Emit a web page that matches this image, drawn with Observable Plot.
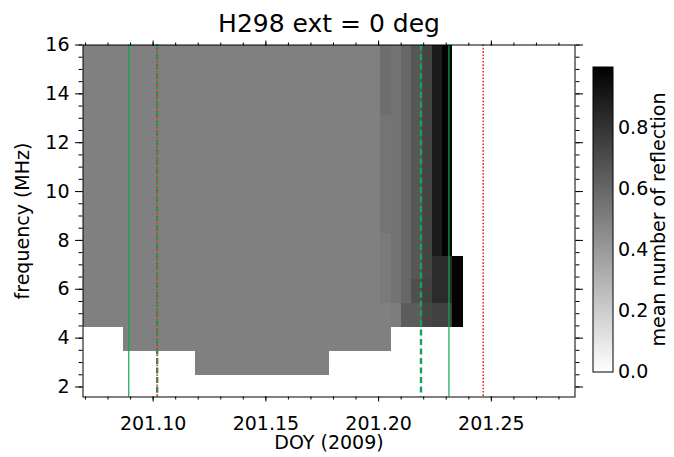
<!DOCTYPE html>
<html>
<head>
<meta charset="utf-8">
<script src="https://cdn.jsdelivr.net/npm/d3@7"></script>
<script src="https://cdn.jsdelivr.net/npm/@observablehq/plot@0.6"></script>
<style>
  html, body { margin: 0; padding: 0; background: #fff; }
  #chart { position: relative; width: 674px; height: 457px; overflow: hidden; background: #fff; }
  #chart svg { position: absolute; top: 0; }
</style>
</head>
<body>
<div id="chart"></div>
<script>
// ---- text ----
const titleText = "H298 ext = 0 deg";
const xLabel = "DOY (2009)";
const yLabel = "frequency (MHz)";
const colorLabel = "mean number of reflection";

// ---- bin edges (DOY and MHz) ----
const timeEdges = [201.0689, 201.0867, 201.1188, 201.1782, 201.2009, 201.2057, 201.2101,
                   201.2146, 201.2195, 201.2239, 201.2283, 201.2328, 201.2377];
const freqEdges = [2.45, 3.45, 4.45, 5.4, 6.4, 7.35, 8.3, 9.3, 10.25, 11.2, 12.15, 13.1, 14.1, 15.05, 16.0];

// ---- mean number of reflection, one array per time bin, rows from low to high frequency ----
const meanReflection = [
  [null, null, .5, .5, .5, .5, .5, .5, .5, .5, .5, .5, .5, .5],
  [null, .5, .5, .5, .5, .5, .5, .5, .5, .5, .5, .5, .5, .5],
  [.5, .5, .5, .5, .5, .5, .5, .5, .5, .5, .5, .5, .5, .5],
  [null, .5, .5, .5, .5, .5, .5, .5, .5, .5, .5, .5, .5, .5],
  [null, .5, .5, .52, .52, .52, .545, .545, .545, .545, .545, .57, .57, .57],
  [null, null, .515, .55, .55, .55, .55, .55, .55, .55, .55, .55, .55, .55],
  [null, null, .64, .595, .595, .595, .595, .595, .595, .595, .595, .595, .595, .595],
  [null, null, .64, .69, .66, .66, .66, .66, .66, .66, .66, .66, .66, .66],
  [null, null, .73, .75, .733, .733, .733, .733, .733, .733, .733, .733, .733, .733],
  [null, null, .745, .83, .83, .89, .89, .89, .89, .89, .89, .89, .89, .89],
  [null, null, .745, .83, .83, .99, .99, .99, .99, .99, .99, .99, .99, .99],
  [null, null, .99, .99, .99, null, null, null, null, null, null, null, null, null]
];

// ---- marker lines (DOY) ----
const greenSolidDOY = [201.0892, 201.2312];
const greenDashedDOY = [201.1018, 201.2188];
const redDottedDOY = [201.1018, 201.2464];

// ---- ticks ----
const xMajorTicks = [201.10, 201.15, 201.20, 201.25];
const xMinorTicks = [201.07, 201.08, 201.09, 201.10, 201.11, 201.12, 201.13, 201.14, 201.15, 201.16, 201.17,
                     201.18, 201.19, 201.20, 201.21, 201.22, 201.23, 201.24, 201.25, 201.26, 201.27, 201.28];
const yMajorTicks = [2, 4, 6, 8, 10, 12, 14, 16];
const yMinorTicks = [2, 2.5, 3, 3.5, 4, 4.5, 5, 5.5, 6, 6.5, 7, 7.5, 8, 8.5, 9, 9.5, 10, 10.5, 11, 11.5,
                     12, 12.5, 13, 13.5, 14, 14.5, 15, 15.5, 16];
const colorTicks = [0, 0.2, 0.4, 0.6, 0.8];

// ---- build cells ----
const cells = [];
meanReflection.forEach((col, i) => col.forEach((v, j) => {
  if (v != null) cells.push({t1: timeEdges[i], t2: timeEdges[i + 1], f1: freqEdges[j], f2: freqEdges[j + 1], v});
}));

const font = "'DejaVu Sans', sans-serif";
const green = "#12a55a";
const red = "#e0302a";
const colorScale = {type: "linear", domain: [0, 1], range: ["white", "black"]};

const main = Plot.plot({
  width: 674, height: 457,
  marginLeft: 82.5, marginRight: 99.5, marginTop: 44.5, marginBottom: 60.5,
  style: {fontFamily: font, fontSize: "19px", color: "black", background: "white", overflow: "visible"},
  x: {domain: [201.0689, 201.2871]},
  y: {domain: [1.59, 16]},
  color: colorScale,
  marks: [
    Plot.rect(cells, {x1: "t1", x2: "t2", y1: "f1", y2: "f2", fill: "v", shapeRendering: "crispEdges"}),
    Plot.ruleX(greenSolidDOY, {stroke: green, strokeWidth: 1.2}),
    Plot.ruleX(greenDashedDOY, {stroke: green, strokeWidth: 2.4, strokeDasharray: "6,3.5"}),
    Plot.ruleX(redDottedDOY, {stroke: red, strokeWidth: 1.6, strokeDasharray: "1.6,1.7"}),
    Plot.frame({stroke: "black"}),
    Plot.axisX({anchor: "bottom", ticks: xMajorTicks, tickSize: 5, tickPadding: 14, tickFormat: ".2f",
                label: xLabel, labelAnchor: "center", labelArrow: "none", labelOffset: 52}),
    Plot.axisX({anchor: "bottom", ticks: xMinorTicks, tickSize: 3, fill: "none"}),
    Plot.axisX({anchor: "top", ticks: xMajorTicks, tickSize: 5, fill: "none"}),
    Plot.axisX({anchor: "top", ticks: xMinorTicks, tickSize: 3, fill: "none"}),
    Plot.axisY({anchor: "left", ticks: yMajorTicks, tickSize: 7.5, tickPadding: 6, tickFormat: d => String(d),
                label: yLabel, labelAnchor: "center", labelArrow: "none", labelOffset: 68}),
    Plot.axisY({anchor: "left", ticks: yMinorTicks, tickSize: 4, fill: "none"}),
    Plot.axisY({anchor: "right", ticks: yMajorTicks, tickSize: 7.5, fill: "none"}),
    Plot.axisY({anchor: "right", ticks: yMinorTicks, tickSize: 4, fill: "none"}),
    Plot.text([titleText], {frameAnchor: "top", dy: -13.5, lineAnchor: "bottom", fontSize: 25})
  ]
});
main.style.left = "0px";

const barStep = 0.002;
const barStops = d3.range(0, 1, barStep);
const bar = Plot.plot({
  width: 92, height: 457,
  marginLeft: 10.5, marginRight: 61.5, marginTop: 66.5, marginBottom: 85.5,
  style: {fontFamily: font, fontSize: "19px", color: "black", background: "transparent", overflow: "visible"},
  x: {domain: [0, 1], axis: null},
  y: {domain: [0, 1], axis: null},
  color: colorScale,
  marks: [
    Plot.rect(barStops, {x1: 0, x2: 1, y1: d => d, y2: d => d + barStep, fill: d => d, shapeRendering: "crispEdges"}),
    Plot.frame({stroke: "black"}),
    Plot.axisY({anchor: "right", ticks: colorTicks, tickSize: 0, tickPadding: 5, tickFormat: ".1f", label: null}),
    Plot.text([colorLabel], {frameAnchor: "right", rotate: -90, dx: 46, textAnchor: "middle", lineAnchor: "middle", fontSize: 19})
  ]
});
bar.style.left = "582px";

const chart = document.getElementById("chart");
chart.appendChild(main);
chart.appendChild(bar);
</script>
</body>
</html>
